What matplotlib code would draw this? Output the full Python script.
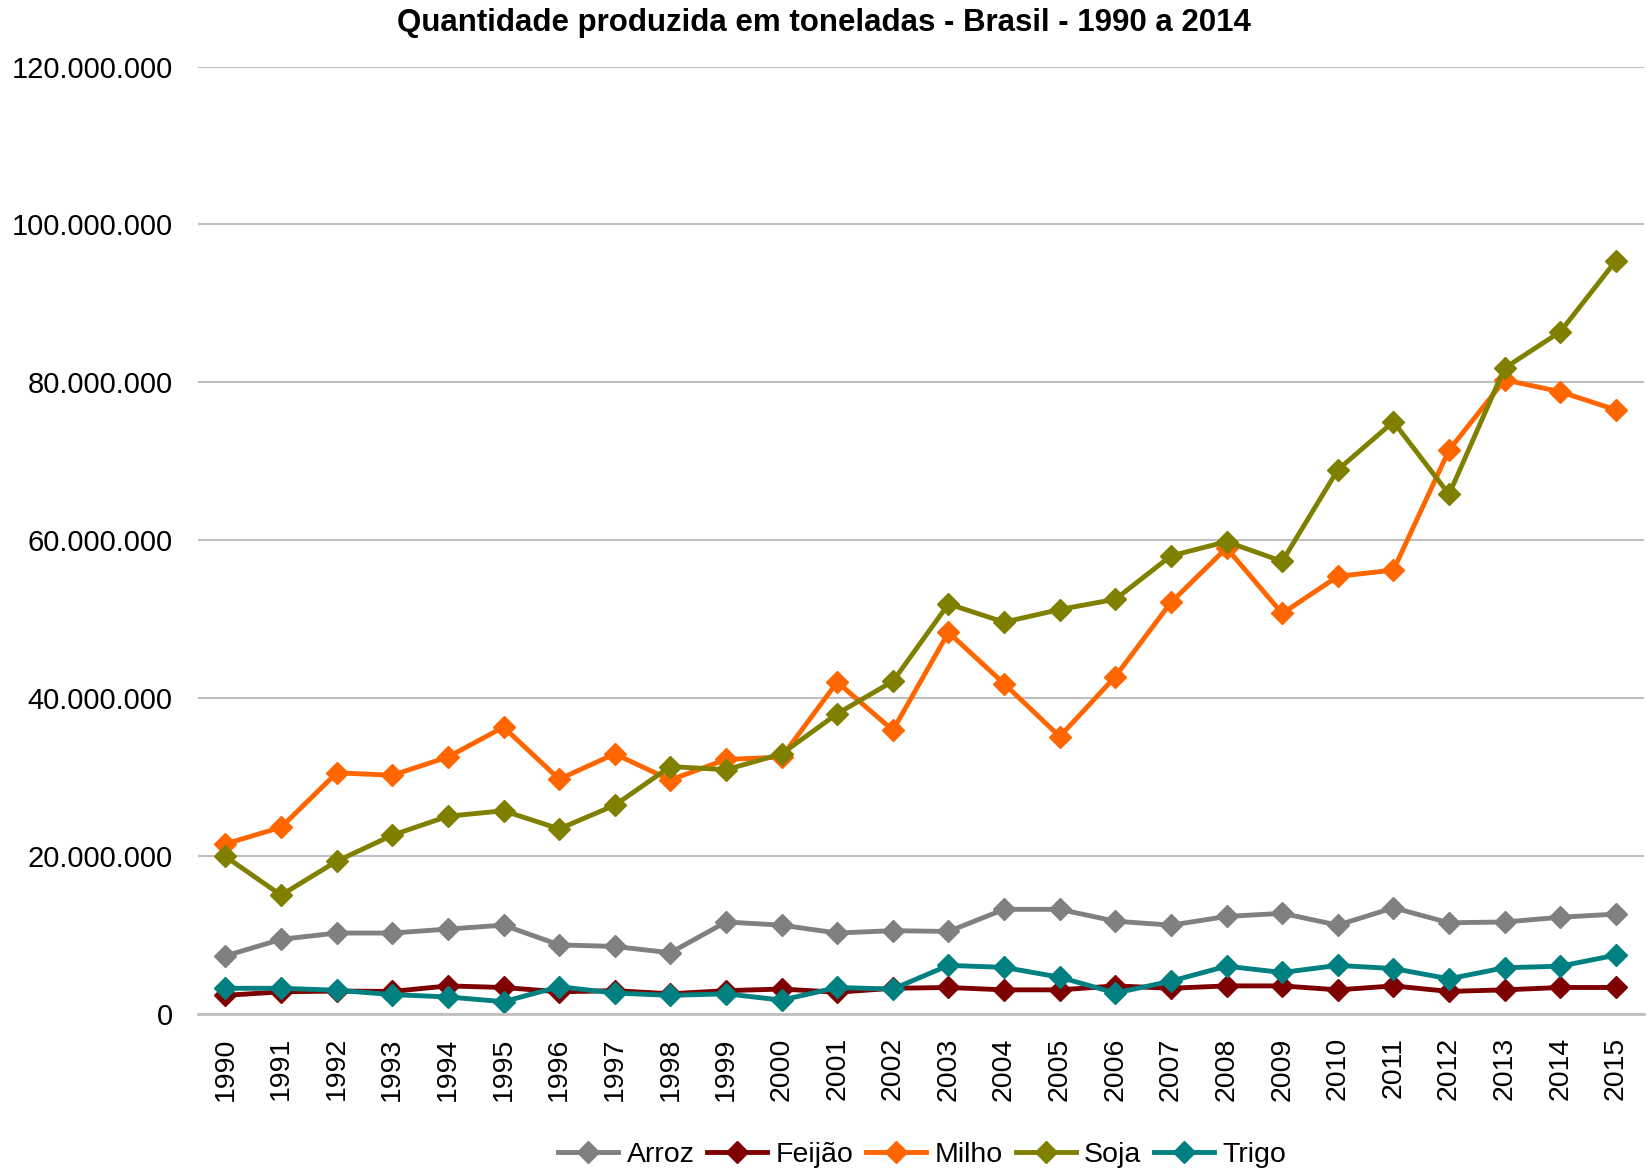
import numpy as np
import matplotlib.pyplot as plt
from matplotlib.ticker import FuncFormatter

plt.rcParams['font.family'] = ['Liberation Sans', 'DejaVu Sans']

# anos (eixo x)
anos = [str(a) for a in range(1990, 2016)]

# produção em milhões de toneladas
arroz = [7.3, 9.4, 10.2, 10.2, 10.7, 11.2, 8.7, 8.5, 7.7, 11.6, 11.2, 10.2, 10.5,
         10.4, 13.2, 13.2, 11.7, 11.2, 12.3, 12.7, 11.2, 13.4, 11.5, 11.6, 12.2, 12.6]
feijao = [2.3, 2.75, 2.85, 2.8, 3.5, 3.3, 2.75, 2.9, 2.5, 2.9, 3.1, 2.7, 3.2,
          3.3, 3.0, 3.0, 3.5, 3.2, 3.5, 3.5, 3.0, 3.5, 2.8, 3.0, 3.3, 3.3]
milho = [21.5, 23.6, 30.5, 30.2, 32.5, 36.3, 29.7, 32.9, 29.6, 32.2, 32.5, 42.0, 35.9,
         48.3, 41.8, 35.1, 42.7, 52.1, 59.0, 50.7, 55.4, 56.2, 71.4, 80.3, 78.8, 76.5]
soja = [19.9, 15.0, 19.3, 22.6, 25.0, 25.7, 23.4, 26.4, 31.3, 30.9, 32.9, 38.0, 42.1,
        51.9, 49.6, 51.2, 52.5, 58.0, 59.8, 57.3, 68.9, 75.0, 65.8, 81.8, 86.4, 95.4]
trigo = [3.2, 3.2, 2.95, 2.4, 2.1, 1.5, 3.4, 2.6, 2.3, 2.5, 1.7, 3.3, 3.1,
         6.1, 5.85, 4.6, 2.6, 4.1, 6.0, 5.2, 6.1, 5.7, 4.4, 5.8, 6.0, 7.4]

series = [('Arroz', arroz, '#808080'),
          ('Feijão', feijao, '#7F0000'),
          ('Milho', milho, '#FF6600'),
          ('Soja', soja, '#808000'),
          ('Trigo', trigo, '#008080')]

fig = plt.figure(figsize=(16.47, 11.69), dpi=100)
ax = fig.add_axes([0.120, 0.133, 0.878, 0.810])

x = np.arange(len(anos))
for nome, vals, cor in series:
    ax.plot(x, np.array(vals) * 1e6, color=cor, linewidth=3.5,
            marker='D', markersize=11.5, label=nome)

ax.set_xlim(-0.5, len(anos) - 0.5)
ax.set_ylim(0, 120e6)
ax.set_yticks(np.arange(0, 120e6 + 1, 20e6))
ax.yaxis.set_major_formatter(FuncFormatter(lambda v, p: f'{int(v):,}'.replace(',', '.')))
ax.set_xticks(x)
ax.set_xticklabels(anos, rotation=90)

ax.grid(axis='y', color='#BFBFBF', linewidth=1.5)
ax.set_axisbelow(True)
for s in ['top', 'right', 'left']:
    ax.spines[s].set_visible(False)
ax.spines['bottom'].set_color('#BFBFBF')
ax.spines['bottom'].set_linewidth(2)
ax.tick_params(axis='both', length=0)
ax.tick_params(axis='y', labelsize=21, pad=18)
ax.tick_params(axis='x', labelsize=20.5, pad=17)

fig.text(0.5, 0.980, 'Quantidade produzida em toneladas - Brasil - 1990 a 2014',
         ha='center', va='center', fontsize=22.5, fontweight='bold')

fig.legend(loc='center', bbox_to_anchor=(0.56, 0.012), ncol=5, frameon=False,
           fontsize=20.5, handlelength=2.1, handletextpad=0.3, columnspacing=0.45)

fig.savefig('out.png', dpi=100)
